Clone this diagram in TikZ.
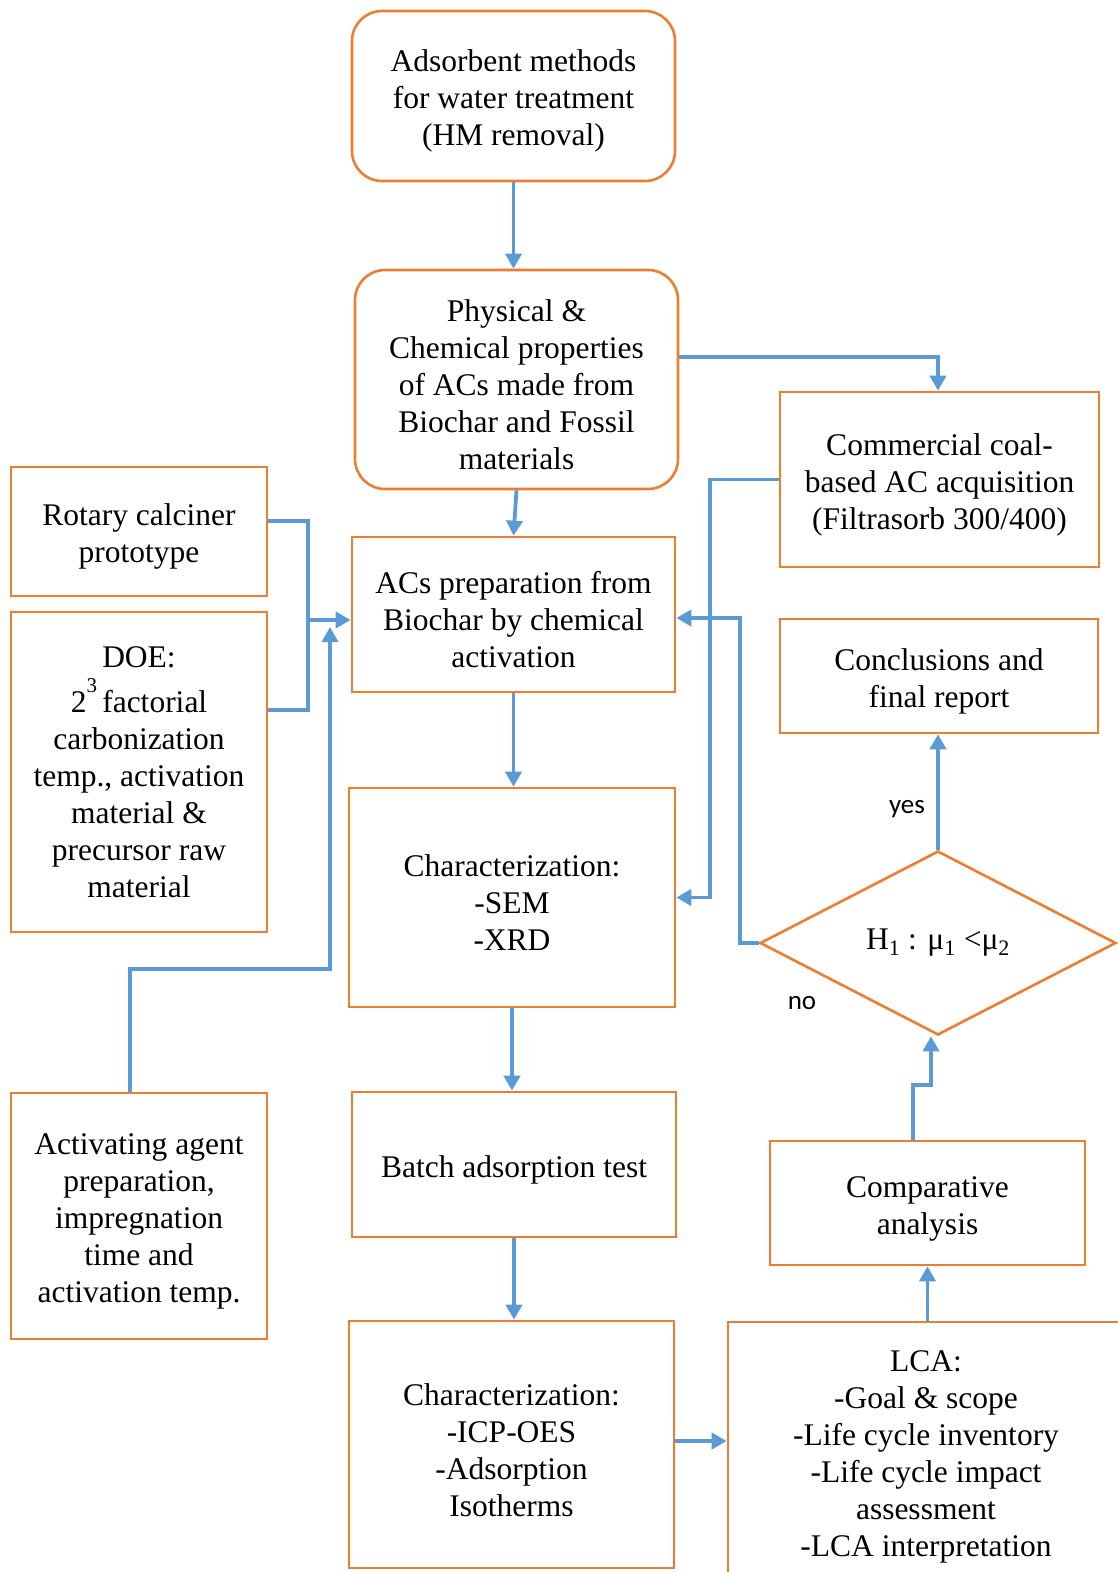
\documentclass[tikz,border=0pt]{standalone}
\usepackage{fontspec}
\setmainfont{Liberation Serif}
\newfontfamily\sansf{Carlito}
\usetikzlibrary{arrows.meta,shapes.geometric,calc}
\definecolor{boxorange}{HTML}{ED7D31}
\definecolor{arrblue}{HTML}{5B9BD5}
\newcommand{\ts}{\rule{0pt}{32.5pt}}
\begin{document}
\begin{tikzpicture}[x=1pt,y=-1pt,
  box/.style={draw=boxorange, line width=2.6pt, rectangle, align=center, inner sep=0pt,
    font=\fontsize{31.5pt}{37pt}\selectfont},
  rbox/.style={box, rounded corners=30pt},
  dbox/.style={draw=boxorange, line width=2.6pt, diamond, aspect=1.935, inner sep=0pt,
    minimum width=356pt, minimum height=184pt, font=\fontsize{31.5pt}{37pt}\selectfont},
  line/.style={draw=arrblue, line width=3.8pt},
  arr/.style={line, -{Triangle[length=15pt,width=16pt]}},
  lab/.style={font=\sansf\fontsize{27pt}{30pt}\selectfont, inner sep=0pt}
]
\useasboundingbox (0,0) rectangle (1118,1572);

% nodes
\node[rbox, minimum width=323pt, minimum height=170pt] (adsorb) at (513.5,96)
  {\ts Adsorbent methods\\for water treatment\\(HM removal)};
\node[rbox, minimum width=323pt, minimum height=219pt] (phys) at (516.5,379.5)
  {\ts Physical \&\\Chemical properties\\of ACs made from\\Biochar and Fossil\\materials};
\node[box, minimum width=319pt, minimum height=175pt] (comm) at (939.5,479.5)
  {\ts Commercial coal-\\based AC acquisition\\(Filtrasorb 300/400)};
\node[box, minimum width=256pt, minimum height=129pt] (rotary) at (139,531.5)
  {\ts Rotary calciner\\prototype};
\node[box, minimum width=256pt, minimum height=320pt] (doe) at (139,772)
  {DOE:\\[8pt]2\raisebox{0.62em}{\fontsize{21pt}{21pt}\selectfont 3}\,factorial\\carbonization\\temp., activation\\material \&\\precursor raw\\material};
\node[box, minimum width=323pt, minimum height=155pt] (prep) at (513.5,614.5)
  {\ts ACs preparation from\\Biochar by chemical\\activation};
\node[box, minimum width=318pt, minimum height=114pt] (concl) at (939,676)
  {\ts Conclusions and\\final report};
\node[box, minimum width=326pt, minimum height=219pt] (sem) at (512,897.5)
  {\ts Characterization:\\-SEM\\-XRD};
\node[dbox] (dia) at (938,943)
  {H\textsubscript{1} : μ\textsubscript{1} <μ\textsubscript{2}};
\node[box, minimum width=324pt, minimum height=145pt] (batch) at (514,1164.5)
  {\ts Batch adsorption test};
\node[box, minimum width=315pt, minimum height=124pt] (comp) at (927.5,1203)
  {\ts Comparative\\analysis};
\node[box, minimum width=256pt, minimum height=246pt] (agent) at (139,1216)
  {\ts Activating agent\\preparation,\\impregnation\\time and\\activation temp.};
\node[box, minimum width=325pt, minimum height=247pt] (icp) at (511.5,1444.5)
  {\ts Characterization:\\-ICP-OES\\-Adsorption\\Isotherms};
\node[box, minimum width=396pt, minimum height=258pt] (lca) at (926,1451)
  {\ts LCA:\\-Goal \& scope\\-Life cycle inventory\\-Life cycle impact\\assessment\\-LCA interpretation};

\node[lab] (yes) at (907,809) {yes};
\node[lab] (no) at (802,1003) {no};

% bend coordinates
\coordinate (pc) at (938,357);
\coordinate (jr) at (308,620);
\coordinate (jd) at (308,710);
\coordinate (ag1) at (330,969);
\coordinate (ag2) at (330,627);
\coordinate (cs) at (710,700);
\coordinate (dp) at (740,750);
\coordinate (cd) at (931,1085);

% connectors
\draw[arr] (adsorb.south) -- (adsorb.south |- phys.north);
\draw[arr] (phys.east |- pc) -- (pc) -- (pc |- comm.north);
\draw[arr] (phys.south) -- (prep.north);
\draw[line] ([yshift=10.5pt]rotary.east) -| (jd) -- (jd -| doe.east);
\draw[arr] (jr) -- (jr -| prep.west);
\draw[arr] ([xshift=-9pt]agent.north) |- (ag1) -- (ag2);
\draw[arr] (comm.west) -| (cs) |- (sem.east);
\draw[arr] (dia.west) -| (dp) |- ([yshift=-3.5pt]prep.east);
\draw[arr] (dia.north) -- (dia.north |- concl.south);
\draw[arr] (prep.south) -- (prep.south |- sem.north);
\draw[arr] (sem.south) -- (sem.south |- batch.north);
\draw[arr] (batch.south) -- (batch.south |- icp.north);
\draw[arr] ([yshift=3.5pt]icp.east) -- ([yshift=3.5pt]icp.east -| lca.west);
\draw[arr] (comp.south |- lca.north) -- (comp.south);
\draw[arr] ([xshift=-14.5pt]comp.north) |- (cd) -- (cd |- dia.south);
\end{tikzpicture}
\end{document}
